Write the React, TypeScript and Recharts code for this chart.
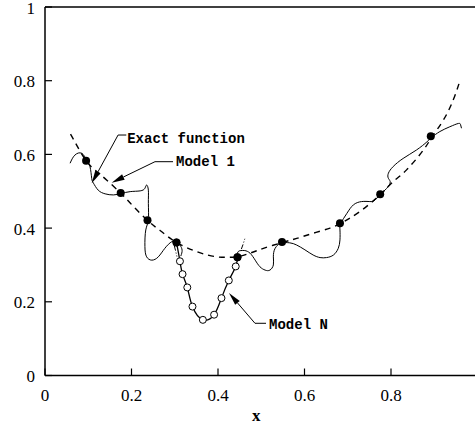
import React from 'react';
import { ComposedChart, Line, XAxis, YAxis, ReferenceLine, ReferenceDot } from 'recharts';

const xTicks = [0, 0.2, 0.4, 0.6, 0.8];
const yTicks = [0, 0.2, 0.4, 0.6, 0.8, 1];

// dashed curve
const exactFunction = [
    { x: 0.059, y: 0.655 }, { x: 0.07, y: 0.632 }, { x: 0.095, y: 0.583 }, { x: 0.12, y: 0.553 },
    { x: 0.143, y: 0.53 }, { x: 0.175, y: 0.495 }, { x: 0.197, y: 0.468 }, { x: 0.237, y: 0.421 },
    { x: 0.27, y: 0.39 }, { x: 0.304, y: 0.361 }, { x: 0.351, y: 0.336 }, { x: 0.397, y: 0.322 },
    { x: 0.428, y: 0.321 }, { x: 0.445, y: 0.322 }, { x: 0.474, y: 0.332 }, { x: 0.505, y: 0.345 },
    { x: 0.549, y: 0.361 }, { x: 0.582, y: 0.372 }, { x: 0.62, y: 0.386 }, { x: 0.659, y: 0.4 },
    { x: 0.684, y: 0.413 }, { x: 0.728, y: 0.445 }, { x: 0.776, y: 0.492 }, { x: 0.805, y: 0.526 },
    { x: 0.836, y: 0.558 }, { x: 0.875, y: 0.612 }, { x: 0.894, y: 0.646 }, { x: 0.921, y: 0.693 },
    { x: 0.944, y: 0.748 }, { x: 0.96, y: 0.802 },
];

// short dash-dot pieces at the ends of the refined element
const localExact = [
    { x: 0.299, y: 0.352 }, { x: 0.302, y: 0.338 }, { x: 0.305, y: 0.323 },
    { x: 0.38, y: null },
    { x: 0.454, y: 0.343 }, { x: 0.458, y: 0.356 }, { x: 0.462, y: 0.371 },
];

const model1Left = [
    { x: 0.058, y: 0.576 }, { x: 0.069, y: 0.598 }, { x: 0.085, y: 0.603 }, { x: 0.096, y: 0.585 },
    { x: 0.104, y: 0.567 }, { x: 0.108, y: 0.535 }, { x: 0.112, y: 0.522 }, { x: 0.123, y: 0.503 },
    { x: 0.139, y: 0.493 }, { x: 0.158, y: 0.49 }, { x: 0.177, y: 0.494 }, { x: 0.197, y: 0.499 },
    { x: 0.22, y: 0.501 }, { x: 0.231, y: 0.508 }, { x: 0.235, y: 0.517 }, { x: 0.239, y: 0.503 },
    { x: 0.239, y: 0.467 }, { x: 0.239, y: 0.422 }, { x: 0.233, y: 0.395 }, { x: 0.231, y: 0.35 },
    { x: 0.235, y: 0.322 }, { x: 0.247, y: 0.313 }, { x: 0.262, y: 0.322 }, { x: 0.277, y: 0.345 },
    { x: 0.293, y: 0.363 }, { x: 0.304, y: 0.363 }, { x: 0.312, y: 0.354 }, { x: 0.317, y: 0.34 },
    { x: 0.314, y: 0.324 },
];

const model1Right = [
    { x: 0.443, y: 0.319 }, { x: 0.446, y: 0.335 }, { x: 0.453, y: 0.339 }, { x: 0.462, y: 0.339 },
    { x: 0.474, y: 0.332 }, { x: 0.486, y: 0.313 }, { x: 0.497, y: 0.295 }, { x: 0.509, y: 0.286 },
    { x: 0.52, y: 0.286 }, { x: 0.528, y: 0.3 }, { x: 0.528, y: 0.322 }, { x: 0.532, y: 0.345 },
    { x: 0.543, y: 0.359 }, { x: 0.549, y: 0.361 }, { x: 0.566, y: 0.36 }, { x: 0.582, y: 0.354 },
    { x: 0.601, y: 0.341 }, { x: 0.62, y: 0.327 }, { x: 0.636, y: 0.32 }, { x: 0.651, y: 0.32 },
    { x: 0.667, y: 0.327 }, { x: 0.678, y: 0.345 }, { x: 0.682, y: 0.368 }, { x: 0.682, y: 0.395 },
    { x: 0.684, y: 0.413 }, { x: 0.698, y: 0.44 }, { x: 0.713, y: 0.463 }, { x: 0.732, y: 0.472 },
    { x: 0.751, y: 0.472 }, { x: 0.763, y: 0.476 }, { x: 0.776, y: 0.493 }, { x: 0.786, y: 0.503 },
    { x: 0.798, y: 0.522 }, { x: 0.794, y: 0.535 }, { x: 0.794, y: 0.549 }, { x: 0.805, y: 0.567 },
    { x: 0.828, y: 0.589 }, { x: 0.859, y: 0.612 }, { x: 0.883, y: 0.634 }, { x: 0.894, y: 0.646 },
    { x: 0.913, y: 0.662 }, { x: 0.936, y: 0.675 }, { x: 0.956, y: 0.684 }, { x: 0.961, y: 0.68 },
    { x: 0.963, y: 0.671 },
];

const modelN = [
    { x: 0.304, y: 0.361 }, { x: 0.312, y: 0.31 }, { x: 0.318, y: 0.275 }, { x: 0.329, y: 0.239 },
    { x: 0.341, y: 0.187 }, { x: 0.365, y: 0.151 }, { x: 0.391, y: 0.165 }, { x: 0.408, y: 0.21 },
    { x: 0.425, y: 0.258 }, { x: 0.441, y: 0.296 }, { x: 0.445, y: 0.321 },
];

const samplePoints = [
    { x: 0.095, y: 0.583 }, { x: 0.175, y: 0.495 }, { x: 0.237, y: 0.421 }, { x: 0.304, y: 0.361 },
    { x: 0.445, y: 0.321 }, { x: 0.548, y: 0.362 }, { x: 0.682, y: 0.413 }, { x: 0.775, y: 0.492 },
    { x: 0.892, y: 0.649 },
];

const annotations = [
    { text: 'Exact function', at: { x: 0.19, y: 0.641 }, from: { x: 0.188, y: 0.6526 }, elbow: { x: 0.169, y: 0.6526 }, tip: { x: 0.108, y: 0.5216 } },
    { text: 'Model 1', at: { x: 0.303, y: 0.5794 }, from: { x: 0.296, y: 0.5802 }, elbow: { x: 0.2543, y: 0.5802 }, tip: { x: 0.1542, y: 0.5232 } },
    { text: 'Model N', at: { x: 0.518, y: 0.1379 }, from: { x: 0.511, y: 0.1417 }, elbow: { x: 0.4855, y: 0.1417 }, tip: { x: 0.4254, y: 0.2239 } },
];

const serifStyle = { fontFamily: "'Liberation Serif', 'DejaVu Serif', serif" };
const monoStyle = { fontFamily: "'Liberation Mono', 'DejaVu Sans Mono', monospace" };

const BottomTick = (props: any) => {
    const { x, y, payload } = props;
    return (
        <g>
            <line x1={x} y1={y} x2={x} y2={y - 7} stroke="#000" strokeWidth={1.2} />
            <text x={x} y={y + 20} textAnchor="middle" dominantBaseline="central" style={serifStyle} fontSize={17} fill="#000">
                {payload.value}
            </text>
        </g>
    );
};

const TopTick = (props: any) => {
    const { x, y } = props;
    return <line x1={x} y1={y} x2={x} y2={y + 7} stroke="#000" strokeWidth={1.2} />;
};

const LeftTick = (props: any) => {
    const { x, y, payload } = props;
    return (
        <g>
            <line x1={x} y1={y} x2={x + 7} y2={y} stroke="#000" strokeWidth={1.2} />
            <text x={x - 10} y={y + 1} textAnchor="end" dominantBaseline="central" style={serifStyle} fontSize={17} fill="#000">
                {payload.value}
            </text>
        </g>
    );
};

const RightTick = (props: any) => {
    const { x, y } = props;
    return <line x1={x} y1={y} x2={x - 7} y2={y} stroke="#000" strokeWidth={1.2} />;
};

const ArrowShape = (props: any) => {
    const { x1, y1, x2, y2 } = props;
    const dx = x2 - x1;
    const dy = y2 - y1;
    const len = Math.sqrt(dx * dx + dy * dy) || 1;
    const ux = dx / len;
    const uy = dy / len;
    const hl = 13;
    const hw = 3;
    const bx = x2 - ux * hl;
    const by = y2 - uy * hl;
    const pts = `${x2},${y2} ${bx - uy * hw},${by + ux * hw} ${bx + uy * hw},${by - ux * hw}`;
    return (
        <g>
            <line x1={x1} y1={y1} x2={bx} y2={by} stroke="#000" strokeWidth={1} />
            <polygon points={pts} fill="#000" />
        </g>
    );
};

const PlainSegment = (props: any) => {
    const { x1, y1, x2, y2 } = props;
    return <line x1={x1} y1={y1} x2={x2} y2={y2} stroke="#000" strokeWidth={1} />;
};

export default function App() {
    return (
        <div style={{ position: 'fixed', left: 0, top: 0, width: 475, height: 427, overflow: 'hidden', background: '#fff' }}>
            <ComposedChart width={490} height={427} margin={{ top: 0, right: 0, bottom: 0, left: 0 }}>
                <XAxis
                    dataKey="x"
                    type="number"
                    domain={[0, 1]}
                    ticks={xTicks}
                    height={51.5}
                    tickSize={0}
                    tickMargin={0}
                    tickLine={false}
                    axisLine={{ stroke: '#000', strokeWidth: 1.5 }}
                    tick={<BottomTick />}
                    interval={0}
                    label={{
                        content: (p: any) => {
                            const vb = p.viewBox;
                            return (
                                <text x={vb.x + vb.width / 2 - 5} y={vb.y + 40} textAnchor="middle" dominantBaseline="central" style={serifStyle} fontWeight="bold" fontSize={17} fill="#000">
                                    x
                                </text>
                            );
                        },
                    }}
                />
                <XAxis
                    xAxisId="top"
                    orientation="top"
                    dataKey="x"
                    type="number"
                    domain={[0, 1]}
                    ticks={xTicks}
                    height={7}
                    tickSize={0}
                    tickMargin={0}
                    tickLine={false}
                    axisLine={{ stroke: '#000', strokeWidth: 1.5 }}
                    tick={<TopTick />}
                    interval={0}
                />
                <YAxis
                    type="number"
                    domain={[0, 1]}
                    ticks={yTicks}
                    width={45}
                    tickSize={0}
                    tickMargin={0}
                    tickLine={false}
                    axisLine={{ stroke: '#000', strokeWidth: 1.5 }}
                    tick={<LeftTick />}
                    interval={0}
                />
                <YAxis
                    yAxisId="right"
                    orientation="right"
                    type="number"
                    domain={[0, 1]}
                    ticks={yTicks}
                    width={12.5}
                    tickSize={0}
                    tickMargin={0}
                    tickLine={false}
                    axisLine={{ stroke: '#000', strokeWidth: 1.5 }}
                    tick={<RightTick />}
                    interval={0}
                />

                <Line data={exactFunction} dataKey="y" type="natural" stroke="#000" strokeWidth={1.4} strokeDasharray="6 5" dot={false} activeDot={false} isAnimationActive={false} />
                <Line data={localExact} dataKey="y" type="linear" stroke="#000" strokeWidth={1} strokeDasharray="5 2 1 2" dot={false} activeDot={false} isAnimationActive={false} />
                <Line data={model1Left} dataKey="y" type="natural" stroke="#000" strokeWidth={1} dot={false} activeDot={false} isAnimationActive={false} />
                <Line data={model1Right} dataKey="y" type="natural" stroke="#000" strokeWidth={1} dot={false} activeDot={false} isAnimationActive={false} />
                <Line
                    data={modelN}
                    dataKey="y"
                    type="natural"
                    stroke="#000"
                    strokeWidth={1.3}
                    dot={{ r: 3.5, fill: '#fff', stroke: '#000', strokeWidth: 1 }}
                    activeDot={false}
                    isAnimationActive={false}
                />
                <Line data={samplePoints} dataKey="y" type="linear" stroke="none" dot={{ r: 4, fill: '#000', stroke: '#000', strokeWidth: 0 }} activeDot={false} isAnimationActive={false} />

                {annotations.map((a) => (
                    <ReferenceLine key={a.text + '-h'} segment={[a.from, a.elbow]} shape={<PlainSegment />} ifOverflow="visible" />
                ))}
                {annotations.map((a) => (
                    <ReferenceLine key={a.text + '-d'} segment={[a.elbow, a.tip]} shape={<ArrowShape />} ifOverflow="visible" />
                ))}
                {annotations.map((a) => (
                    <ReferenceDot
                        key={a.text + '-t'}
                        x={a.at.x}
                        y={a.at.y}
                        r={0}
                        ifOverflow="visible"
                        shape={(p: any) => (
                            <text x={p.cx} y={p.cy} textAnchor="start" dominantBaseline="central" style={monoStyle} fontWeight="bold" fontSize={14} fill="#000">
                                {a.text}
                            </text>
                        )}
                    />
                ))}
            </ComposedChart>
        </div>
    );
}
